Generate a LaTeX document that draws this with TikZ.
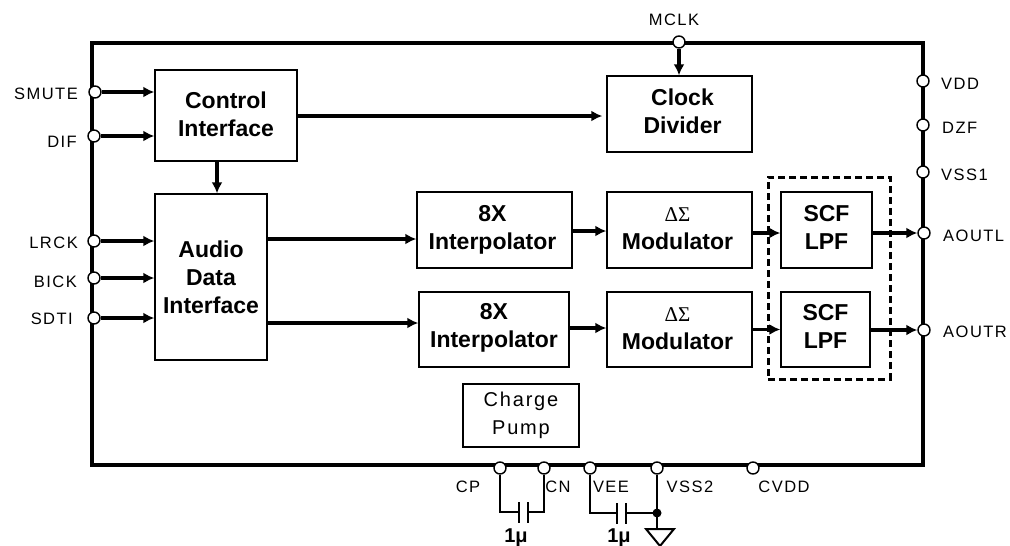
\documentclass[tikz,border=0pt]{standalone}
\usepackage{fontspec}
\setmainfont{Liberation Sans}
\newfontfamily\lblfont[LetterSpace=9]{Liberation Sans}
\newfontfamily\symfont{Liberation Serif}
\usetikzlibrary{arrows.meta}
\tikzset{
  x=1pt,y=-1pt,
  blktxt/.style={inner sep=0pt,align=center,font=\fontsize{23}{28}\selectfont\bfseries},
  blk/.style={draw,line width=1.4pt,fill=white,inner sep=0pt},
  chargebox/.style={draw,line width=1.4pt,inner sep=0pt,align=center,font=\lblfont\fontsize{20}{28}\selectfont},
  pin/.style={circle,draw,line width=1.4pt,fill=white,minimum size=12pt,inner sep=0pt},
  lbl/.style={inner sep=0pt,font=\lblfont\fontsize{16.5}{18}\selectfont},
  cval/.style={inner sep=0pt,font=\fontsize{20}{22}\selectfont\bfseries},
  sig/.style={line width=3.2pt,-{Latex[length=11pt,width=11pt]}},
  thin wire/.style={line width=1.5pt},
  dashbox/.style={draw,line width=3pt,dash pattern=on 7pt off 4pt,inner sep=0pt},
}
\newcommand{\dsym}{{\symfont\mdseries\fontsize{21}{21}\selectfont ΔΣ}}
\begin{document}
\begin{tikzpicture}
\useasboundingbox (0,0) rectangle (1010,546);
\node[draw,line width=4pt,minimum width=831pt,minimum height=422pt,inner sep=0pt] (chip) at (507.5,254) {};
% blocks
\node[blk,minimum width=142pt,minimum height=91pt,label={[blktxt,yshift=1pt]center:{Control\\Interface}}] (ctrl) at (226,115.5) {};
\node[blk,minimum width=112pt,minimum height=166pt,label={[blktxt]center:{Audio\\Data\\Interface}}] (audio) at (211,277) {};
\node[blk,minimum width=145pt,minimum height=76pt,label={[blktxt,yshift=3pt,xshift=3pt]center:{Clock\\Divider}}] (clock) at (679.5,114) {};
\node[blk,minimum width=155pt,minimum height=76pt,label={[blktxt,xshift=-2pt]center:{8X\\Interpolator}}] (intA) at (494.5,230) {};
\node[blk,minimum width=150pt,minimum height=75pt,label={[blktxt,yshift=2pt]center:{8X\\Interpolator}}] (intB) at (494,329.5) {};
\node[blk,minimum width=145pt,minimum height=76pt,label={[blktxt,yshift=1pt,xshift=-2pt]center:{\dsym\\Modulator}}] (modA) at (679.5,230) {};
\node[blk,minimum width=145pt,minimum height=75pt,label={[blktxt,yshift=1pt,xshift=-2pt]center:{\dsym\\Modulator}}] (modB) at (679.5,329.5) {};
\node[dashbox,minimum width=122pt,minimum height=202pt] (dash) at (829,278) {};
\node[blk,minimum width=91pt,minimum height=76pt,label={[blktxt,yshift=3pt]center:{SCF\\LPF}}] (scfA) at (826.5,230) {};
\node[blk,minimum width=89pt,minimum height=75pt,label={[blktxt,yshift=3pt]center:{SCF\\LPF}}] (scfB) at (825.5,329.5) {};
\node[chargebox,minimum width=116pt,minimum height=63pt] (pump) at (521,415.5) {Charge\\Pump};
% pins
\node[pin] (smute) at (95,92) {};
\node[pin] (dif) at (94,136) {};
\node[pin] (lrck) at (94,241) {};
\node[pin] (bick) at (94,278) {};
\node[pin] (sdti) at (94,318) {};
\node[pin] (mclk) at (679,42) {};
\node[pin] (vdd) at (923,81) {};
\node[pin] (dzf) at (923,125) {};
\node[pin] (vssone) at (923,172) {};
\node[pin] (aoutl) at (924,233) {};
\node[pin] (aoutr) at (924,330) {};
\node[pin] (cp) at (500,468) {};
\node[pin] (cn) at (544,468) {};
\node[pin] (vee) at (590,468) {};
\node[pin] (vsstwo) at (657,468) {};
\node[pin] (cvdd) at (753,468) {};
% labels
\node[lbl,anchor=east] (Lsmute) at (78,94) {SMUTE};
\node[lbl,anchor=east] (Ldif) at (77,142) {DIF};
\node[lbl,anchor=east] (Llrck) at (78,243) {LRCK};
\node[lbl,anchor=east] (Lbick) at (77,282) {BICK};
\node[lbl,anchor=east] (Lsdti) at (73,319) {SDTI};
\node[lbl] (Lmclk) at (674,20) {MCLK};
\node[lbl,anchor=west] (Lvdd) at (941,84) {VDD};
\node[lbl,anchor=west] (Ldzf) at (942,128) {DZF};
\node[lbl,anchor=west] (Lvss) at (941,175) {VSS1};
\node[lbl,anchor=west] (Laoutl) at (943,236) {AOUTL};
\node[lbl,anchor=west] (Laoutr) at (943,332) {AOUTR};
\node[lbl] (Lcp) at (468,487) {CP};
\node[lbl] (Lcn) at (558,487) {CN};
\node[lbl] (Lvee) at (611,487) {VEE};
\node[lbl] (Lvss2) at (690,487) {VSS2};
\node[lbl] (Lcvdd) at (784,487) {CVDD};
\node[cval] (cvalA) at (516,538) {1μ};
\node[cval] (cvalB) at (619,538) {1μ};
% signal connectors
\draw[sig] (smute) -- (smute -| ctrl.west);
\draw[sig] (dif) -- (dif -| ctrl.west);
\draw[sig] (lrck) -- (lrck -| audio.west);
\draw[sig] (bick) -- (bick -| audio.west);
\draw[sig] (sdti) -- (sdti -| audio.west);
\draw[sig] (mclk) -- (mclk |- clock.north);
\draw[sig,shorten >=4pt] ([yshift=-2pt]clock.west -| ctrl.east) -- ([yshift=-2pt]clock.west);
\draw[sig] ([xshift=6pt]audio.north |- ctrl.south) -- ([xshift=6pt]audio.north);
\draw[sig] ([yshift=-9pt]intA.west -| audio.east) -- ([yshift=-9pt]intA.west);
\draw[sig] ([yshift=6.5pt]intB.west -| audio.east) -- ([yshift=6.5pt]intB.west);
\draw[sig] ([yshift=-1pt]intA.east) -- ([yshift=-1pt]modA.west);
\draw[sig] ([yshift=1.5pt]intB.east) -- ([yshift=1.5pt]modB.west);
\draw[sig] ([yshift=-3pt]modA.east) -- ([yshift=-3pt]scfA.west);
\draw[sig] (modB) -- (scfB);
\draw[sig] (aoutl -| scfA.east) -- (aoutl);
\draw[sig] (aoutr -| scfB.east) -- (aoutr);
% capacitors and ground
\coordinate (capAl) at (519,512);
\coordinate (capAr) at (528,512);
\coordinate (capBl) at (617,513);
\coordinate (capBr) at (626,513);
\coordinate (gnd) at (657,513);
\draw[thin wire] (cp) -- (cp |- capAl) -- (capAl);
\draw[thin wire] (cn) -- (cn |- capAr) -- (capAr);
\draw[thin wire] (capAl) ++(0,-10) -- ++(0,21);
\draw[thin wire] (capAr) ++(0,-10) -- ++(0,21);
\draw[thin wire] (vee) -- (vee |- capBl) -- (capBl);
\draw[thin wire] (capBr) -- (gnd);
\draw[thin wire] (capBl) ++(0,-10) -- ++(0,21);
\draw[thin wire] (capBr) ++(0,-10) -- ++(0,21);
\draw[thin wire] (vsstwo) -- (gnd) -- ++(0,16);
\fill (gnd) circle (4.5pt);
\draw[line width=2pt] (646,529) -- (674,529) -- (660,546) -- cycle;
\end{tikzpicture}
\end{document}
